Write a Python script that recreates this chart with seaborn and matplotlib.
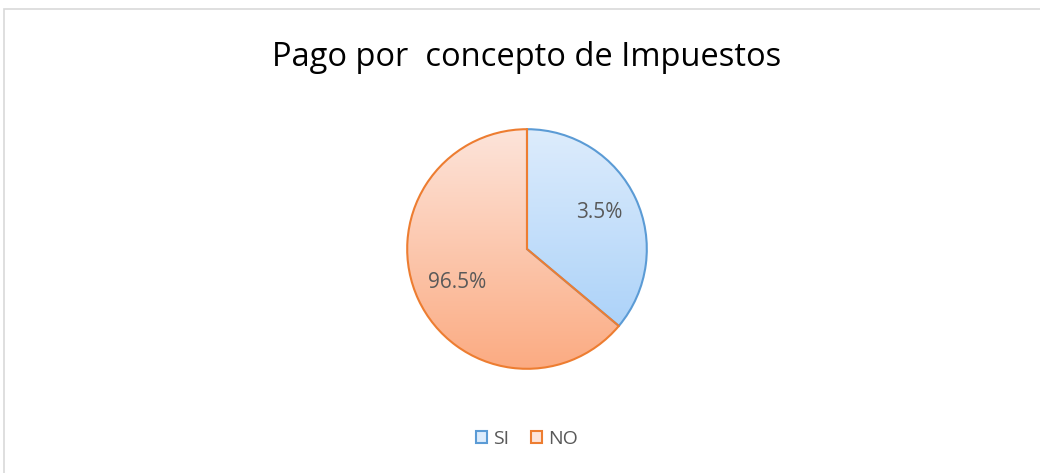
import numpy as np
import matplotlib
matplotlib.use("Agg")
import matplotlib.pyplot as plt
import seaborn as sns
from matplotlib.patches import Rectangle, Patch
from matplotlib.colors import LinearSegmentedColormap

# Data
categories = ["SI", "NO"]
slice_shares = [36.1, 63.9]          # angular share as drawn
slice_labels = ["3.5%", "96.5%"]     # labels as printed
edge_colors = ["#5b9bd5", "#ed7d31"]
grad_top = ["#ddecfc", "#fde4da"]
grad_bottom = ["#a2cdf8", "#fbab82"]

sns.set_theme(style="white")
plt.rcParams['font.family'] = ['Open Sans', 'DejaVu Sans']

fig = plt.figure(figsize=(10.4, 4.73), dpi=100)
W, H = 1040, 473

# frame
fig.patches.append(Rectangle((4 / W, -0.01), 1.1, (473 - 9) / H + 0.01, transform=fig.transFigure,
                             fill=False, edgecolor="#d9d9d9", linewidth=1.2))

cx, cy, r = 527, 249, 121
ax = fig.add_axes([(cx - r) / W, (H - cy - r) / H, 2 * r / W, 2 * r / H])
wedges, _ = ax.pie(slice_shares, startangle=90, counterclock=False, radius=1,
                   wedgeprops=dict(linewidth=1.5))
ax.set_xlim(-1.01, 1.01)
ax.set_ylim(-1.01, 1.01)
ax.set_aspect("equal")
ax.axis("off")

grad = np.linspace(0, 1, 256).reshape(-1, 1)
for w, ec, top, bot in zip(wedges, edge_colors, grad_top, grad_bottom):
    w.set_facecolor("none")
    w.set_edgecolor(ec)
    w.set_zorder(3)
    cmap = LinearSegmentedColormap.from_list("g", [top, bot])
    im = ax.imshow(grad, cmap=cmap, extent=(-1, 1, -1, 1), origin="upper",
                   aspect="auto", zorder=1)
    im.set_clip_path(w)

# labels
lab_pos = [(599, 213), (457, 283)]
for (px, py), t in zip(lab_pos, slice_labels):
    fig.text(px / W, 1 - py / H, t, ha="center", va="center", fontsize=15, color="#595959")

fig.text(cx / W, 1 - 57 / H, "Pago por  concepto de Impuestos", ha="center", va="center",
         fontsize=23.5, color="#000000")

handles = [Patch(facecolor=t, edgecolor=e, linewidth=1.5) for t, e in zip(grad_top, edge_colors)]
fig.legend(handles, categories, loc="center", bbox_to_anchor=(cx / W, 1 - 439 / H), ncol=2,
           frameon=False, fontsize=14, labelcolor="#595959", handlelength=0.6, handleheight=0.6,
           handletextpad=0.3, columnspacing=1.1)

fig.savefig("out.png", dpi=100)
